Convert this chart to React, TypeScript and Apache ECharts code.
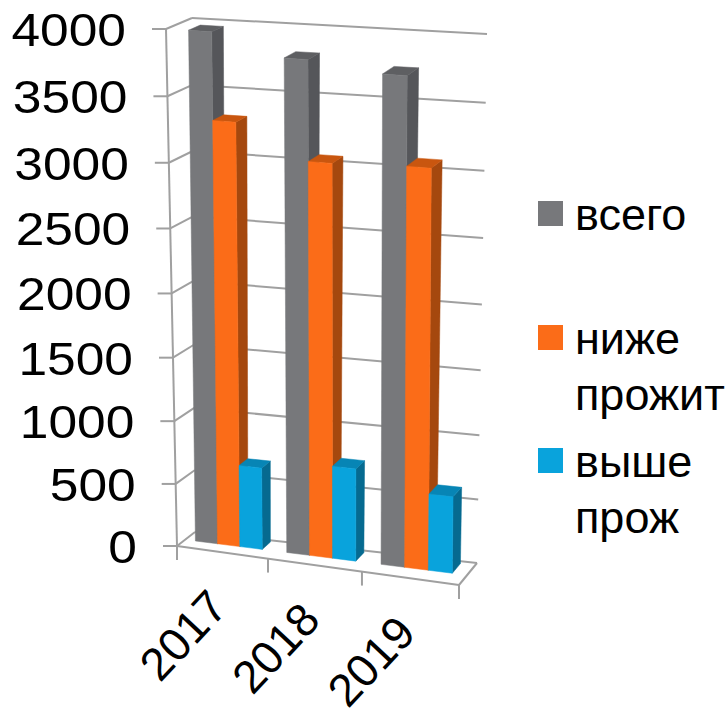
import React, { useEffect, useRef } from "react";
import * as echarts from "echarts";

const categories = ["2017", "2018", "2019"];
const seriesNames = ["всего", "ниже прожит", "выше прож"];
const legendTexts = ["всего", "ниже\nпрожит", "выше\nпрож"];
const total = [3960, 3805, 3740];
const below = [3300, 3050, 3075];
const above = [650, 730, 600];
const valueTicks = [0, 500, 1000, 1500, 2000, 2500, 3000, 3500, 4000];
const faces = [
  { front: "#77787B", side: "#55565A", top: "#5E5F62" },
  { front: "#FB6C18", side: "#A5480E", top: "#C9560F" },
  { front: "#09A3DC", side: "#066A90", top: "#0785B5" },
];

const GRID = { left: 100, top: 100, width: 300, height: 400 };
const FONT = '"Liberation Sans", Arial, sans-serif';
const K_U = 0.047;
const K_V = 0.045;

const C = {
  f0b: [177, 546], f1b: [459, 585], b0b: [195, 532], b1b: [477, 563],
  f0t: [166, 29], f1t: [461, 53], b0t: [192, 18], b1t: [487, 34],
};
const warp = (t: number, k: number) => (t * (1 - k)) / (1 - k * t);
const mix = (a: number[], b: number[], t: number) => [a[0] + (b[0] - a[0]) * t, a[1] + (b[1] - a[1]) * t];
function project(u: number, d: number, v: number) {
  const uu = warp(u, K_U);
  const vv = warp(v, K_V);
  const bottom = mix(mix(C.f0b, C.f1b, uu), mix(C.b0b, C.b1b, uu), d);
  const top = mix(mix(C.f0t, C.f1t, uu), mix(C.b0t, C.b1t, uu), d);
  return mix(bottom, top, vv);
}
const normU = (px: number) => (px - GRID.left) / GRID.width;
const normV = (py: number) => (GRID.top + GRID.height - py) / GRID.height;

const BAR_D0 = 0.45;
const BAR_D1 = 0.9;
const BAR_START = 0.115;
const BAR_W = 0.245;
const LINE = "#A0A0A0";

function barRender(seriesIdx: number) {
  return (_p: any, api: any) => {
    const cat = api.value(0);
    const val = api.value(1);
    const pt = api.coord([cat, val]);
    const base = api.coord([cat, 0]);
    const band = api.size([1, 0])[0];
    const left = pt[0] - band / 2 + band * (BAR_START + BAR_W * seriesIdx);
    const right = left + band * BAR_W;
    const u0 = normU(left);
    const u1 = normU(right);
    const v0 = normV(base[1]);
    const v1 = normV(pt[1]);
    const poly = (pts: number[][], fill: string) => ({
      type: "polygon",
      shape: { points: pts },
      style: { fill, stroke: fill, lineWidth: 0.5 },
    });
    const c = faces[seriesIdx];
    return {
      type: "group",
      children: [
        poly([project(u1, BAR_D0, v0), project(u1, BAR_D1, v0), project(u1, BAR_D1, v1), project(u1, BAR_D0, v1)], c.side),
        poly([project(u0, BAR_D0, v1), project(u1, BAR_D0, v1), project(u1, BAR_D1, v1), project(u0, BAR_D1, v1)], c.top),
        poly([project(u0, BAR_D0, v0), project(u1, BAR_D0, v0), project(u1, BAR_D0, v1), project(u0, BAR_D0, v1)], c.front),
      ],
    };
  };
}

function frameRender(_p: any, api: any) {
  const kind = api.value(0);
  const line = (a: number[], b: number[]) => ({
    type: "line",
    shape: { x1: a[0], y1: a[1], x2: b[0], y2: b[1] },
    style: { stroke: LINE, lineWidth: 2 },
  });
  if (kind === 0) {
    const tick = api.value(1);
    const v = normV(api.coord([0, tick])[1]);
    const f = project(0, 0, v);
    const b = project(0, 1, v);
    const r = project(1, 1, v);
    return {
      type: "group",
      children: [
        line([f[0] - 14, f[1]], f),
        line(f, b),
        line(b, r),
        {
          type: "text",
          x: f[0] - 40,
          y: f[1] + 1,
          scaleX: 1.12,
          style: { text: String(tick), fontSize: 46, fontFamily: FONT, fill: "#000", align: "right", verticalAlign: "middle" },
        },
      ],
    };
  }
  if (kind === 1) {
    const idx = api.value(1);
    const band = api.size([1, 0])[0];
    const c = api.coord([idx, 0]);
    const u = normU(c[0] - band / 2);
    const p = project(u, 0, 0);
    return { type: "group", children: [line(p, [p[0], p[1] + 14])] };
  }
  if (kind === 2) {
    const idx = api.value(1);
    const c = api.coord([idx, 0]);
    const p = project(normU(c[0]), 0, 0);
    return {
      type: "text",
      x: p[0] - 39,
      y: p[1] + 83,
      rotation: (47 * Math.PI) / 180,
      style: { text: categories[idx], fontSize: 46, fontFamily: FONT, fill: "#000", align: "center", verticalAlign: "middle" },
    };
  }
  return {
    type: "group",
    children: [
      line(project(0, 0, 0), project(0, 0, 1)),
      line(project(0, 0, 0), project(1, 0, 0)),
      line(project(1, 0, 0), project(1, 1, 0)),
    ],
  };
}

const legendY = [201, 325, 448];

export default function App() {
  const ref = useRef<HTMLDivElement>(null);
  useEffect(() => {
    const chart = echarts.init(ref.current!, null, { renderer: "svg" });
    const values = [total, below, above];
    const frameData: number[][] = [[3, 0]];
    valueTicks.forEach((t) => frameData.push([0, t]));
    [0, 1, 2, 3].forEach((i) => frameData.push([1, i]));
    categories.forEach((_c, i) => frameData.push([2, i]));
    chart.setOption({
      animation: false,
      backgroundColor: "#fff",
      grid: { ...GRID },
      xAxis: { type: "category", data: categories, show: false },
      yAxis: { type: "value", min: 0, max: 4000, interval: 500, show: false },
      graphic: seriesNames.flatMap((_n, i) => [
        { type: "rect", x: 538, y: legendY[i], shape: { x: 0, y: 0, width: 25, height: 25 }, style: { fill: faces[i].front } },
        {
          type: "text",
          x: 575,
          y: legendY[i] - 15,
          style: { text: legendTexts[i], fontSize: 45, lineHeight: 56, fontFamily: FONT, fill: "#000" },
        },
      ]),
      series: [
        {
          type: "custom",
          name: "frame",
          coordinateSystem: "cartesian2d",
          data: frameData,
          renderItem: frameRender,
          encode: { x: 1, y: 1 },
          clip: false,
          silent: true,
          z: 1,
        },
        ...seriesNames.map((name, i) => ({
          type: "custom",
          name,
          coordinateSystem: "cartesian2d",
          data: values[i].map((v, c) => [c, v]),
          renderItem: barRender(i),
          encode: { x: 0, y: 1 },
          clip: false,
          z: 2 + i,
        })),
      ],
    });
    return () => chart.dispose();
  }, []);
  return <div ref={ref} style={{ width: 727, height: 716, position: "absolute", left: 0, top: 0 }} />;
}
